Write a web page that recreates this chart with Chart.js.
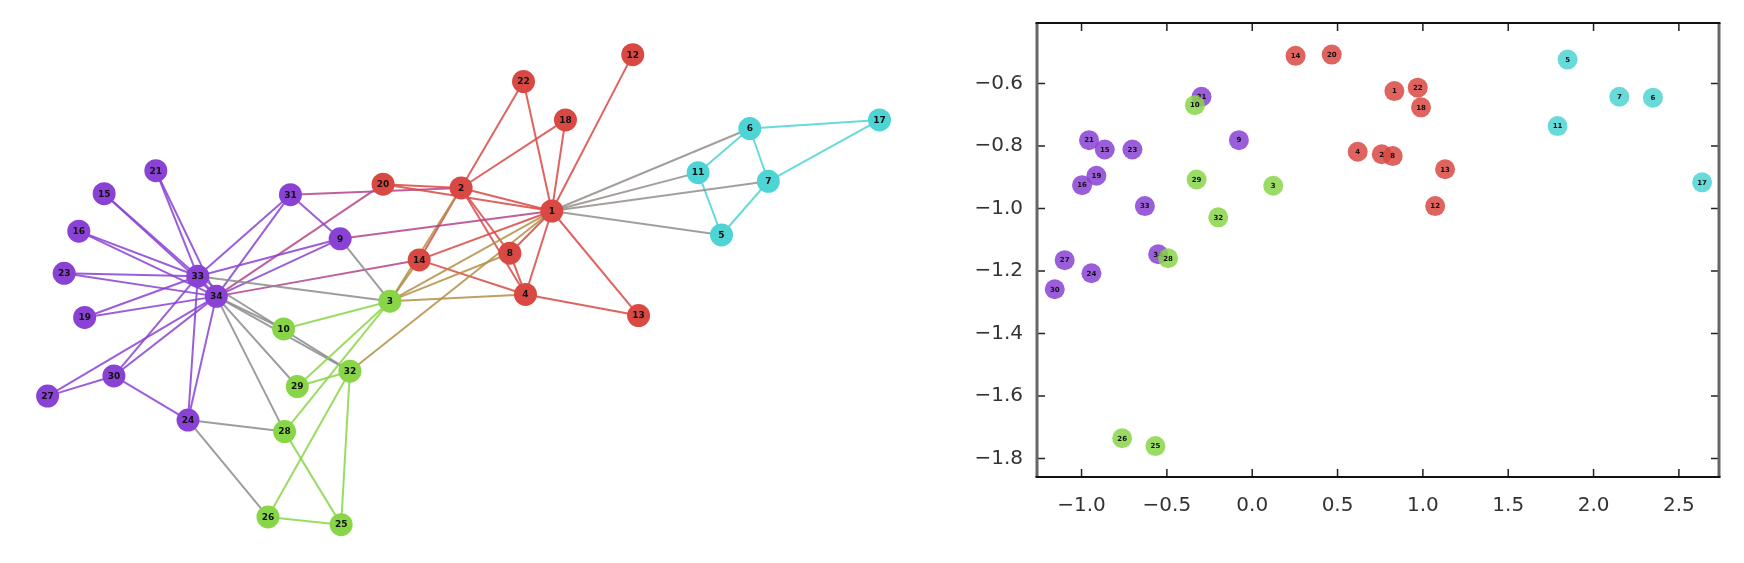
<!DOCTYPE html>
<html>
<head>
<meta charset="utf-8">
<script src="https://cdn.jsdelivr.net/npm/chart.js@4"></script>
<style>
  body { margin: 0; background: #fff; }
  #wrap { position: relative; width: 1744px; height: 563px; }
  #graphBox { position: absolute; left: 0; top: 0; width: 930px; height: 563px; }
  #scatterBox { position: absolute; left: 930px; top: 0; width: 814px; height: 563px; }
</style>
</head>
<body>
<div id="wrap">
  <div id="graphBox"><canvas id="graphChart"></canvas></div>
  <div id="scatterBox"><canvas id="scatterChart"></canvas></div>
</div>
<script>
// node labels 1..34, community of each node
const nodeLabels = Array.from({ length: 34 }, (_, i) => String(i + 1));
const community = [
  'red', 'red', 'green', 'red', 'cyan', 'cyan', 'cyan', 'red', 'purple', 'green',
  'cyan', 'red', 'red', 'red', 'purple', 'purple', 'cyan', 'red', 'purple', 'red',
  'purple', 'red', 'purple', 'purple', 'green', 'green', 'purple', 'green', 'green', 'purple',
  'purple', 'green', 'purple', 'purple',
];

// graph layout positions (left panel)
const layoutX = [
  5.54, 4.61, 3.88, 5.27, 7.28, 7.57, 7.76, 5.11, 3.37, 2.79,
  7.04, 6.37, 6.43, 4.18, 0.95, 0.69, 8.90, 5.68, 0.75, 3.81,
  1.48, 5.25, 0.54, 1.81, 3.38, 2.63, 0.37, 2.80, 2.93, 1.05,
  2.86, 3.47, 1.91, 2.10,
];
const layoutY = [
  3.55, 3.79, 2.61, 2.68, 3.30, 4.41, 3.86, 3.11, 3.26, 2.32,
  3.95, 5.18, 2.46, 3.04, 3.73, 3.34, 4.50, 4.50, 2.44, 3.83,
  3.97, 4.90, 2.90, 1.37, 0.28, 0.36, 1.62, 1.25, 1.72, 1.83,
  3.72, 1.88, 2.87, 2.66,
];

// Zachary karate club edges
const edges = [
  [1, 2], [1, 3], [1, 4], [1, 5], [1, 6], [1, 7], [1, 8], [1, 9], [1, 11], [1, 12],
  [1, 13], [1, 14], [1, 18], [1, 20], [1, 22], [1, 32], [2, 3], [2, 4], [2, 8], [2, 14],
  [2, 18], [2, 20], [2, 22], [2, 31], [3, 4], [3, 8], [3, 9], [3, 10], [3, 14], [3, 28],
  [3, 29], [3, 33], [4, 8], [4, 13], [4, 14], [5, 7], [5, 11], [6, 7], [6, 11], [6, 17],
  [7, 17], [9, 31], [9, 33], [9, 34], [10, 34], [14, 34], [15, 33], [15, 34], [16, 33], [16, 34],
  [19, 33], [19, 34], [20, 34], [21, 33], [21, 34], [23, 33], [23, 34], [24, 26], [24, 28], [24, 30],
  [24, 33], [24, 34], [25, 26], [25, 28], [25, 32], [26, 32], [27, 30], [27, 34], [28, 34], [29, 32],
  [29, 34], [30, 33], [30, 34], [31, 33], [31, 34], [32, 33], [32, 34], [33, 34],
];

// embedding coordinates (right panel)
const embedX = [
  0.833, 0.759, 0.123, 0.618, 1.848, 2.348, 2.151, 0.823, -0.078, -0.336,
  1.789, 1.072, 1.130, 0.254, -0.864, -0.997, 2.636, 0.989, -0.913, 0.466,
  -0.956, 0.970, -0.702, -0.942, -0.567, -0.762, -1.099, -0.493, -0.326, -1.157,
  -0.297, -0.199, -0.629, -0.551,
];
const embedY = [
  -0.624, -0.826, -0.927, -0.818, -0.523, -0.645, -0.642, -0.832, -0.781, -0.669,
  -0.736, -0.992, -0.874, -0.511, -0.811, -0.925, -0.916, -0.676, -0.895, -0.507,
  -0.781, -0.613, -0.811, -1.207, -1.760, -1.735, -1.165, -1.159, -0.907, -1.258,
  -0.642, -1.028, -0.992, -1.146,
];
const xTicks = [-1.0, -0.5, 0.0, 0.5, 1.0, 1.5, 2.0, 2.5];
const yTicks = [-1.8, -1.6, -1.4, -1.2, -1.0, -0.8, -0.6];

const colors = {
  red: [217, 72, 67],
  purple: [138, 66, 212],
  green: [136, 214, 72],
  cyan: [78, 212, 212],
};
const rgba = (c, a) => `rgba(${c[0]}, ${c[1]}, ${c[2]}, ${a})`;
const mix = (a, b) => a.map((v, i) => Math.round((v + b[i]) / 2));

Chart.defaults.font.family = 'DejaVu Sans';
Chart.defaults.animation = false;

// draws the node number inside each point, right after its dataset
const nodeText = {
  id: 'nodeText',
  afterDatasetDraw(chart, args, opts) {
    const ds = chart.data.datasets[args.index];
    if (!ds.nodeIds) return;
    const ctx = chart.ctx;
    ctx.save();
    ctx.font = `bold ${opts.size}px "DejaVu Sans"`;
    ctx.fillStyle = '#111';
    ctx.textAlign = 'center';
    ctx.textBaseline = 'middle';
    args.meta.data.forEach((pt, i) => {
      ctx.fillText(nodeLabels[ds.nodeIds[i]], pt.x, pt.y + 0.5);
    });
    ctx.restore();
  },
};

// ---- left: network ----
const edgeSets = edges.map(([a, b]) => ({
  type: 'line',
  showLine: true,
  data: [
    { x: layoutX[a - 1], y: layoutY[a - 1] },
    { x: layoutX[b - 1], y: layoutY[b - 1] },
  ],
  borderColor: rgba(mix(colors[community[a - 1]], colors[community[b - 1]]), 0.85),
  borderWidth: 2,
  pointRadius: 0,
  order: 2,
}));

const graphNodes = {
  nodeIds: nodeLabels.map((_, i) => i),
  data: layoutX.map((x, i) => ({ x, y: layoutY[i] })),
  backgroundColor: community.map(c => rgba(colors[c], 1)),
  borderWidth: 0,
  pointRadius: 11.5,
  order: 1,
};

new Chart(document.getElementById('graphChart'), {
  type: 'scatter',
  data: { datasets: [graphNodes, ...edgeSets] },
  options: {
    responsive: true,
    maintainAspectRatio: false,
    layout: { padding: 0 },
    plugins: { legend: { display: false }, tooltip: { enabled: false }, nodeText: { size: 9 } },
    scales: {
      x: { display: false, min: 0, max: 9.3 },
      y: { display: false, min: 0, max: 5.63 },
    },
  },
  plugins: [nodeText],
});

// ---- right: embedding scatter ----
const frameTicks = {
  id: 'frameTicks',
  afterDraw(chart) {
    const { ctx, chartArea: a, scales } = chart;
    ctx.save();
    ctx.strokeStyle = '#222';
    ctx.lineWidth = 1.5;
    xTicks.forEach(v => {
      const p = scales.x.getPixelForValue(v);
      ctx.beginPath();
      ctx.moveTo(p, a.bottom); ctx.lineTo(p, a.bottom - 8);
      ctx.moveTo(p, a.top); ctx.lineTo(p, a.top + 8);
      ctx.stroke();
    });
    yTicks.forEach(v => {
      const p = scales.y.getPixelForValue(v);
      ctx.beginPath();
      ctx.moveTo(a.left, p); ctx.lineTo(a.left + 8, p);
      ctx.moveTo(a.right, p); ctx.lineTo(a.right - 8, p);
      ctx.stroke();
    });
    ctx.strokeStyle = '#666';
    ctx.lineWidth = 3;
    ctx.beginPath();
    ctx.moveTo(a.left, a.top); ctx.lineTo(a.left, a.bottom);
    ctx.moveTo(a.right, a.top); ctx.lineTo(a.right, a.bottom);
    ctx.stroke();
    ctx.strokeStyle = '#111';
    ctx.lineWidth = 2;
    ctx.beginPath();
    ctx.moveTo(a.left - 1.5, a.top); ctx.lineTo(a.right + 1.5, a.top);
    ctx.moveTo(a.left - 1.5, a.bottom); ctx.lineTo(a.right + 1.5, a.bottom);
    ctx.stroke();
    ctx.restore();
  },
};

// green listed first so it sits on top of the purple points it overlaps
const scatterSets = ['green', 'purple', 'red', 'cyan'].map(c => {
  const ids = community.map((k, i) => (k === c ? i : -1)).filter(i => i >= 0);
  return {
    nodeIds: ids,
    data: ids.map(i => ({ x: embedX[i], y: embedY[i] })),
    backgroundColor: rgba(colors[c], 0.85),
    borderWidth: 0,
    pointRadius: 10,
  };
});

const fmt = v => v.toFixed(1).replace('-', '\u2212');

new Chart(document.getElementById('scatterChart'), {
  type: 'scatter',
  data: { datasets: scatterSets },
  options: {
    responsive: true,
    maintainAspectRatio: false,
    layout: { padding: { top: 23, right: 25, left: 0, bottom: 0 } },
    plugins: { legend: { display: false }, tooltip: { enabled: false }, nodeText: { size: 7 } },
    scales: {
      x: {
        min: -1.261,
        max: 2.735,
        afterBuildTicks: s => { s.ticks = xTicks.map(value => ({ value })); },
        afterFit: s => { s.height = 86; },
        grid: { display: false },
        border: { display: false },
        ticks: { callback: fmt, autoSkip: false, maxRotation: 0, padding: 9, color: '#333', font: { size: 20 } },
      },
      y: {
        min: -1.859,
        max: -0.406,
        afterBuildTicks: s => { s.ticks = yTicks.map(value => ({ value })); },
        afterFit: s => { s.width = 107; },
        grid: { display: false },
        border: { display: false },
        ticks: { callback: fmt, autoSkip: false, padding: 6, color: '#333', font: { size: 20 } },
      },
    },
  },
  plugins: [nodeText, frameTicks],
});
</script>
</body>
</html>
